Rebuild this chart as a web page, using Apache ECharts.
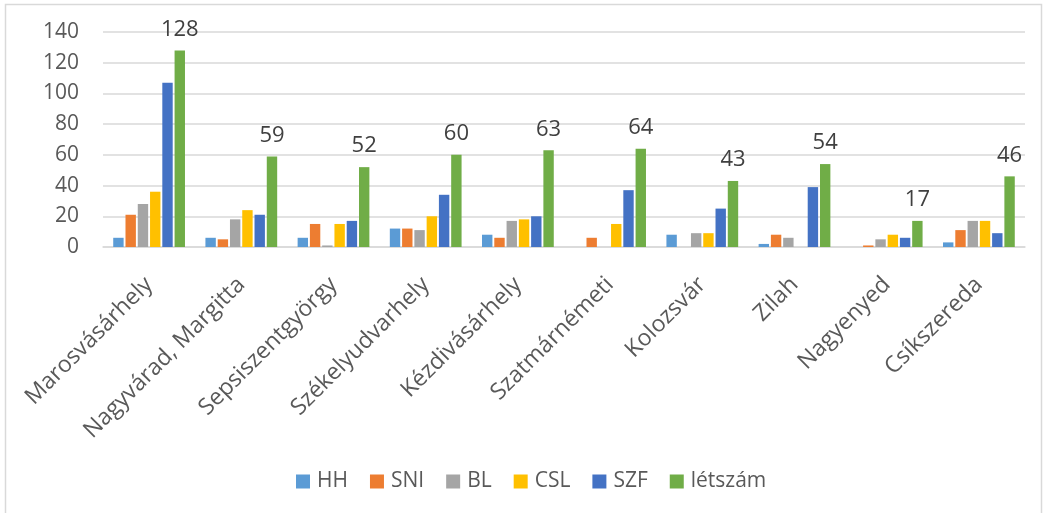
<!DOCTYPE html>
<html>
<head>
<meta charset="utf-8">
<script src="https://cdn.jsdelivr.net/npm/echarts@6/dist/echarts.min.js"></script>
<style>
  html, body { margin: 0; padding: 0; background: #fff; }
  #chart { width: 1043px; height: 513px; }
</style>
</head>
<body>
<div id="chart"></div>
<script>
const cities = ['Marosvásárhely', 'Nagyvárad, Margitta', 'Sepsiszentgyörgy', 'Székelyudvarhely',
  'Kézdivásárhely', 'Szatmárnémeti', 'Kolozsvár', 'Zilah', 'Nagyenyed', 'Csíkszereda'];

const hh      = [6, 6, 6, 12, 8, 0, 8, 2, 0, 3];
const sni     = [21, 5, 15, 12, 6, 6, 0, 8, 1, 11];
const bl      = [28, 18, 1, 11, 17, 0, 9, 6, 5, 17];
const csl     = [36, 24, 15, 20, 18, 15, 9, 0, 8, 17];
const szf     = [107, 21, 17, 34, 20, 37, 25, 39, 6, 9];
const letszam = [128, 59, 52, 60, 63, 64, 43, 54, 17, 46];

const seriesNames = ['HH', 'SNI', 'BL', 'CSL', 'SZF', 'létszám'];
const seriesData = [hh, sni, bl, csl, szf, letszam];
const colors = ['#5B9BD5', '#ED7D31', '#A5A5A5', '#FFC000', '#4472C4', '#70AD47'];

const font = '"Open Sans", sans-serif';

const chart = echarts.init(document.getElementById('chart'));

const series = seriesNames.map((name, i) => ({
  name: name,
  type: 'bar',
  data: seriesData[i],
  barWidth: 10.4,
  barGap: '18%',
  itemStyle: { color: colors[i] },
  label: i === 5 ? {
    show: true,
    position: 'top',
    distance: 10,
    fontSize: 22,
    color: '#404040',
    fontFamily: font
  } : { show: false }
}));

chart.setOption({
  backgroundColor: '#fff',
  animation: false,
  color: colors,
  graphic: [{
    type: 'rect',
    shape: { x: 5.5, y: 4.5, width: 1036, height: 520 },
    style: { fill: 'none', stroke: '#D9D9D9', lineWidth: 1.5 },
    silent: true
  }],
  grid: {
    left: 103,
    right: 18,
    top: 32,
    bottom: 266
  },
  legend: {
    data: seriesNames,
    bottom: 16,
    left: 291,
    itemWidth: 14,
    itemHeight: 14,
    itemGap: 22,
    icon: 'rect',
    textStyle: { fontSize: 21, color: '#595959', fontFamily: font, padding: [0, 0, 0, 2] }
  },
  xAxis: {
    type: 'category',
    data: cities,
    axisLine: { lineStyle: { color: '#D9D9D9', width: 1.5 } },
    axisTick: { show: false },
    axisLabel: {
      rotate: 45,
      interval: 0,
      margin: 34,
      fontSize: 23,
      color: '#595959',
      fontFamily: font
    }
  },
  yAxis: {
    type: 'value',
    min: 0,
    max: 140,
    interval: 20,
    axisLine: { show: false },
    axisTick: { show: false },
    axisLabel: {
      margin: 24,
      fontSize: 21,
      color: '#595959',
      fontFamily: font
    },
    splitLine: { lineStyle: { color: '#D9D9D9', width: 1.5 } }
  },
  series: series
});

window.addEventListener('resize', () => chart.resize());
</script>
</body>
</html>
